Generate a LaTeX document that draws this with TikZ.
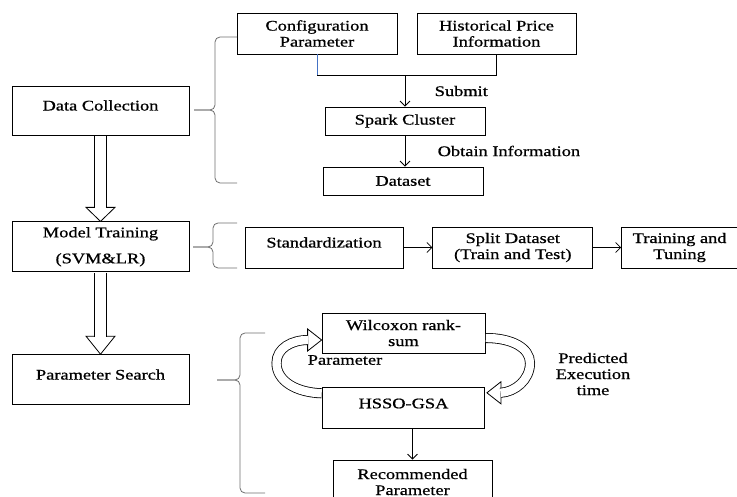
\documentclass[tikz,border=0pt]{standalone}
\usepackage{fontspec}
\setmainfont{Liberation Serif}[FakeStretch=1.25,FakeBold=0.8]
\usepackage{tikz}
\usetikzlibrary{arrows.meta,positioning,calc}
\definecolor{joinblue}{HTML}{4472C4}
\definecolor{bracegray}{HTML}{6E6E6E}

\begin{document}
\begin{tikzpicture}[x=1pt,y=-1pt,>={Straight Barb[length=5pt,width=10pt]},
 font=\fontsize{14.7}{16}\selectfont,
 box/.style={draw,line width=.8pt,inner sep=2pt,align=center,minimum height=41pt},
 mid/.style={text height=10pt,text depth=10pt},
 thin/.style={->,line width=.8pt},
 brace/.style={draw=bracegray,line width=.8pt,rounded corners=5pt},
 hollow/.style={line width=13.4pt,postaction={draw=white,line width=11.8pt}},
 curlarrow/.style={line width=10pt,postaction={draw=white,line width=8.4pt}},
 head/.style={fill=white,line width=.8pt,line join=miter}]
 \useasboundingbox (0,0) rectangle (737,497);
 \clip (0,0) rectangle (737,497);
 \node[box,minimum width=160pt] (cfg) at (317,33.5) {Configuration\\Parameter};
 \node[box,minimum width=159pt] (hist) at (496.5,33.5) {Historical Price\\Information};
 \node[box,minimum width=160pt,minimum height=28pt] (spark) at (405,121) {Spark Cluster};
 \node[box,minimum width=160pt,minimum height=28pt] (dset) at (403,181) {Dataset};
 \node[box,mid,minimum width=177pt,minimum height=49pt] (dc) at (100.5,110.5) {Data Collection};
 \node[box,minimum width=177pt,minimum height=50pt,below=86pt of dc] (mt) {Model Training\\[10pt](SVM\&LR)};
 \node[box,mid,minimum width=177pt,minimum height=50pt,below=82pt of mt] (ps) {Parameter Search};
 \node[box,mid,minimum width=158pt] (std) at (324,247.5) {Standardization};
 \node[box,minimum width=160pt,right=29pt of std] (split) {Split Dataset\\(Train and Test)};
 \node[box,minimum width=116pt,right=28pt of split] (tune) {Training and\\Tuning};
 \node[box,minimum width=163pt,minimum height=40pt] (wil) at (403.5,333) {Wilcoxon rank-\\sum};
 \node[box,mid,minimum width=162pt,below=34pt of wil] (hsso) {HSSO-GSA};
 \node[box,minimum width=159pt,minimum height=44pt] (rec) at (412.5,482) {Recommended\\Parameter};
 \node (plab) at (345,360) {Parameter};
 \node[align=center] (pred) at (593,374) {Predicted\\Execution\\time};

 \draw[draw=joinblue,line width=.8pt] (cfg.south) -- ++(0,21) coordinate (j1);
 \draw[line width=.8pt] (j1) -| (hist.south);
 \draw[thin] (spark.north |- j1) -- node[right=26pt]{Submit} (spark.north);
 \draw[thin] (spark.south) -- node[right=29pt]{Obtain Information} (spark.south |- dset.north);
 \draw[thin] (std) -- (split);
 \draw[thin] (split) -- (tune);
 \draw[thin] (rec.north |- hsso.south) -- (rec.north);

 \draw[head] ($(mt.north)+(-14.5,-14)$) -- (mt.north) -- ($(mt.north)+(14.5,-14)$) -- cycle;
 \draw[hollow] ($(dc.south)+(0,.4)$) -- ($(mt.north)+(0,-13.6)$);
 \draw[head] ($(ps.north)+(-14.5,-18)$) -- (ps.north) -- ($(ps.north)+(14.5,-18)$) -- cycle;
 \draw[hollow] ($(mt.south)+(0,.4)$) -- ($(ps.north)+(0,-17.6)$);

 \coordinate (pl) at ($(wil.west)+(-14,7)$);
 \draw[head] ($(pl)+(0,-11)$) -- ($(pl)+(14,0)$) -- ($(pl)+(0,11)$) -- cycle;
 \draw[curlarrow] ($(hsso.west)+(-.4,-15)$) .. controls (296,392.5) and (276.5,381) .. (276.5,363)
   .. controls (276.5,348) and (292,340) .. ($(pl)+(.4,0)$);
 \coordinate (pr) at ($(hsso.east)+(16,-15.5)$);
 \draw[head] ($(pr)+(0,-11)$) -- ($(pr)+(-14,0)$) -- ($(pr)+(0,11)$) -- cycle;
 \draw[curlarrow] ($(wil.east)+(.4,5)$) .. controls (512,338) and (530,348) .. (530,363)
   .. controls (530,380) and (515,392) .. ($(pr)+(-.4,0)$);

 \draw[brace] (237,37) -- (215,37) -- (215,110) -- (194,110);
 \draw[brace] (237,183) -- (215,183) -- (215,110) -- (194,110);
 \draw[brace] (237,223) -- (213,223) -- (213,247) -- (193,247);
 \draw[brace] (237,268) -- (213,268) -- (213,247) -- (193,247);
 \draw[brace] (265,333) -- (240,333) -- (240,380) -- (217,380);
 \draw[brace] (265,493) -- (240,493) -- (240,380) -- (217,380);
\end{tikzpicture}
\end{document}
